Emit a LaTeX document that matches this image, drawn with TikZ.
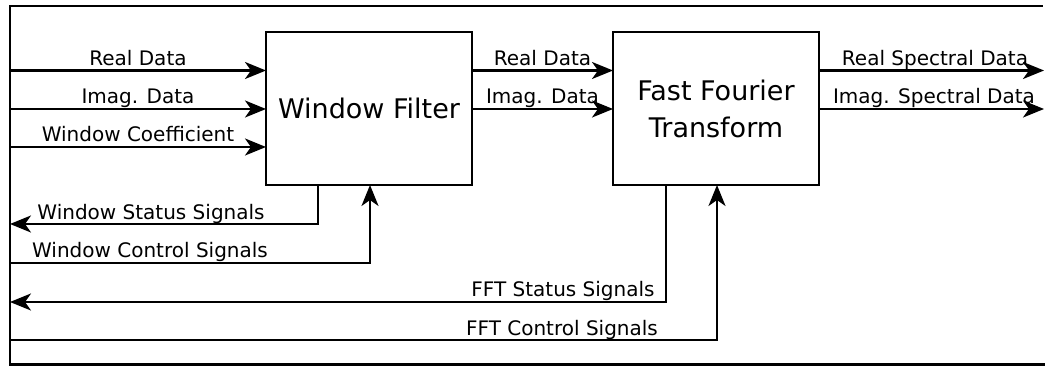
\documentclass[tikz,border=0pt]{standalone}
\usepackage{fontspec}
\setmainfont{DejaVu Sans}
\usetikzlibrary{arrows.meta}

\tikzset{
  block/.style={draw, line width=2.4pt, minimum width=206pt, minimum height=153pt,
    inner sep=0pt, outer sep=0pt, align=center,
    font=\fontsize{27}{37}\selectfont},
  lbl/.style={anchor=base, inner sep=0pt, font=\fontsize{20}{24}\selectfont},
  wire/.style={line width=2.4pt},
  arr/.style={wire, -{Stealth[length=21pt, width=17pt, inset=6pt]}},
}

\begin{document}
\begin{tikzpicture}[x=1pt, y=-1pt]
\useasboundingbox (0,0) rectangle (1045,366);

% enclosing frame
\draw[wire] (10,366) -- (10,6) -- (1043,6);
\draw[wire] (9,364.5) -- (1045,364.5);

% processing blocks
\node[block] (wf)  at (369,108.5) {Window Filter};
\node[block] (fft) at (716,108.5) {Fast Fourier\\Transform};

% port coordinates on the frame
\coordinate (in1) at (10,70.5);
\coordinate (in2) at (10,109);
\coordinate (in3) at (10,147);
\coordinate (out1) at (1044,70.5);
\coordinate (out2) at (1044,109);
\coordinate (wsEnd) at (10,224);
\coordinate (wcStart) at (10,263);
\coordinate (fsEnd) at (10,302);
\coordinate (fcStart) at (10,340);

% data inputs to the window filter
\draw[arr] (in1) -- (in1 -| wf.west);
\draw[arr] (in2) -- (in2 -| wf.west);
\draw[arr] (in3) -- (in3 -| wf.west);

% window filter to FFT
\draw[arr] (in1 -| wf.east) -- (in1 -| fft.west);
\draw[arr] (in2 -| wf.east) -- (in2 -| fft.west);

% spectral outputs
\draw[arr] (in1 -| fft.east) -- (out1);
\draw[arr] (in2 -| fft.east) -- (out2);

% status and control loops
\draw[arr] ([xshift=-51pt]wf.south) |- (wsEnd);
\draw[arr] (wcStart) -| ([xshift=1pt]wf.south);
\draw[arr] ([xshift=-50pt]fft.south) |- (fsEnd);
\draw[arr] (fcStart) -| ([xshift=1pt]fft.south);

% signal labels
\node[lbl] (lRe)   at (138,66)  {Real Data};
\node[lbl] (lIm)   at (138,104) {Imag. Data};
\node[lbl] (lCo)   at (138,142) {Window Coefficient};
\node[lbl] (lRe2)  at (542.5,66)  {Real Data};
\node[lbl] (lIm2)  at (542.5,104) {Imag. Data};
\node[lbl] (lRs)   at (935,66)  {Real Spectral Data};
\node[lbl] (lIs)   at (934,104) {Imag. Spectral Data};
\node[lbl] (lWs)   at (151,220) {Window Status Signals};
\node[lbl] (lWc)   at (150,258) {Window Control Signals};
\node[lbl] (lFs)   at (563,297) {FFT Status Signals};
\node[lbl] (lFc)   at (562,336) {FFT Control Signals};
\end{tikzpicture}
\end{document}
